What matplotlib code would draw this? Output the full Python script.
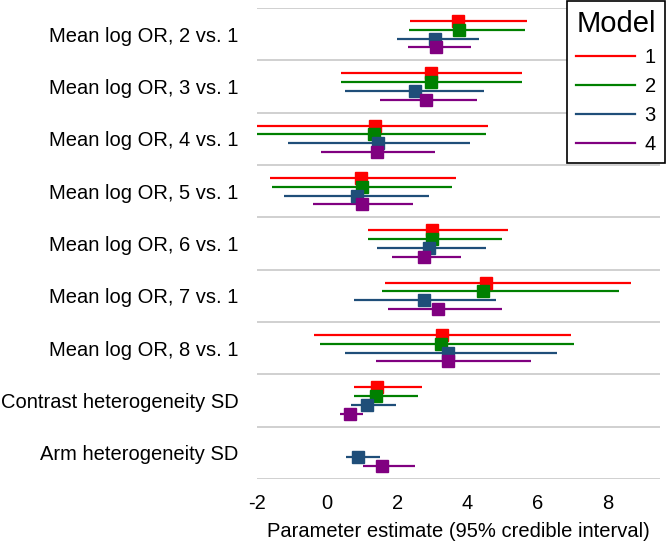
import numpy as np
import matplotlib
matplotlib.use('Agg')
import matplotlib.pyplot as plt
from matplotlib.lines import Line2D

plt.rcParams['font.family'] = ['Liberation Sans', 'DejaVu Sans']

params = ['Mean log OR, 2 vs. 1', 'Mean log OR, 3 vs. 1', 'Mean log OR, 4 vs. 1',
          'Mean log OR, 5 vs. 1', 'Mean log OR, 6 vs. 1', 'Mean log OR, 7 vs. 1',
          'Mean log OR, 8 vs. 1', 'Contrast heterogeneity SD', 'Arm heterogeneity SD']
models = ['1', '2', '3', '4']
colors = ['#ff0000', '#008000', '#1f4e79', '#800080']

nan = np.nan
est = [
    [3.74, 2.95, 1.38, 0.98, 2.99, 4.53, 3.27, 1.41, nan],
    [3.76, 2.96, 1.35, 0.99, 2.99, 4.45, 3.25, 1.39, nan],
    [3.08, 2.51, 1.46, 0.85, 2.92, 2.76, 3.46, 1.15, 0.89],
    [3.12, 2.83, 1.41, 1.00, 2.77, 3.16, 3.46, 0.64, 1.56],
]
lower = [
    [2.36, 0.41, -2.05, -1.63, 1.17, 1.64, -0.36, 0.77, nan],
    [2.33, 0.39, -2.00, -1.58, 1.17, 1.57, -0.19, 0.77, nan],
    [1.99, 0.50, -1.12, -1.24, 1.43, 0.76, 0.50, 0.67, 0.53],
    [2.30, 1.50, -0.18, -0.41, 1.85, 1.74, 1.39, 0.38, 1.02],
]
upper = [
    [5.71, 5.55, 4.59, 3.68, 5.15, 8.66, 6.95, 2.70, nan],
    [5.63, 5.57, 4.53, 3.55, 5.00, 8.31, 7.04, 2.59, nan],
    [4.34, 4.48, 4.08, 2.92, 4.53, 4.83, 6.55, 1.97, 1.50],
    [4.11, 4.27, 3.09, 2.46, 3.81, 4.99, 5.81, 1.03, 2.50],
]

fig = plt.figure(figsize=(6.69, 5.5), dpi=100)
ax = fig.add_axes([0.384, 0.129, 0.603, 0.8565])

ypos = np.arange(len(params))
offsets = [-0.25, -1 / 12, 1 / 12, 0.25]

for b in np.arange(-0.5, len(params), 1.0):
    ax.axhline(b, color='#d0d0d0', lw=1.4, zorder=0)

for m in range(len(models)):
    y = ypos + offsets[m]
    ax.hlines(y, lower[m], upper[m], color=colors[m], lw=1.6, zorder=2)
    ax.plot(est[m], y, 's', color=colors[m], ms=8, zorder=3)

ax.set_xlim(-2.0, 9.5)
ax.set_ylim(len(params) - 0.5, -0.5)
ax.set_yticks(ypos)
ax.set_yticklabels(params, fontsize=14.5)
ax.set_xticks([-2, 0, 2, 4, 6, 8])
ax.set_xticklabels(['-2', '0', '2', '4', '6', '8'], fontsize=14.5)
ax.tick_params(length=0)
ax.tick_params(axis='x', pad=11)
ax.tick_params(axis='y', pad=13)
for s in ax.spines.values():
    s.set_visible(False)
ax.set_xlabel('Parameter estimate (95% credible interval)', fontsize=14.5, labelpad=6)

handles = [Line2D([], [], color=c, lw=1.6) for c in colors]
leg = ax.legend(handles, models, title='Model', loc='upper right',
                bbox_to_anchor=(665 / 669, 1 - 1 / 550), bbox_transform=fig.transFigure,
                borderaxespad=0, fontsize=14.5, title_fontsize=21, handlelength=2.9,
                handletextpad=0.5, labelspacing=0.5, borderpad=0.45,
                fancybox=False, framealpha=1, edgecolor='black')
leg.get_frame().set_linewidth(1.2)

fig.savefig('out.png', dpi=100)
